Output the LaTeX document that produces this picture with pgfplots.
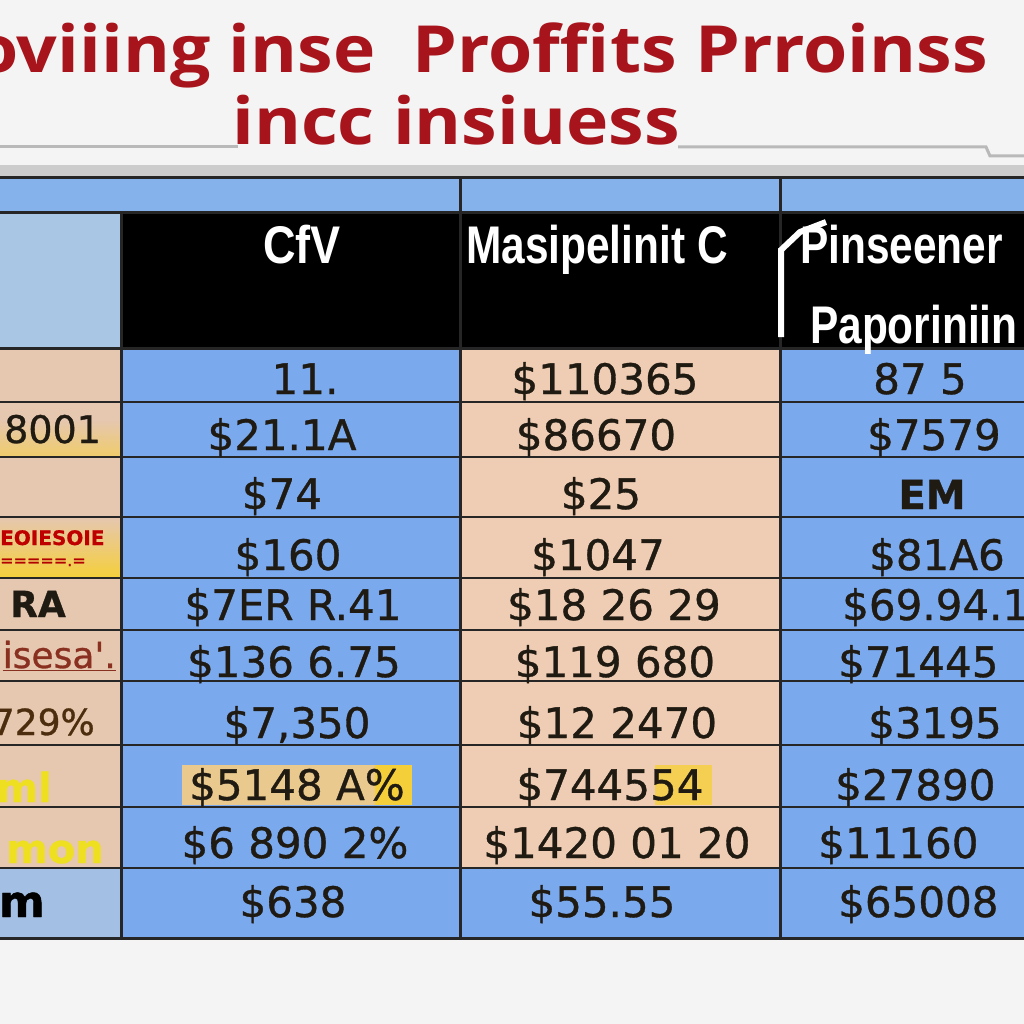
\documentclass[border=0pt]{standalone}
\usepackage{pgfplots}
\pgfplotsset{compat=1.18}
\usepackage{fontspec}
\usepackage{graphicx}
\newfontfamily\titlefont{Open Sans}
\newfontfamily\headfont{Liberation Sans}
\newfontfamily\cellfont{DejaVu Sans}[FakeBold=0.8]

\definecolor{bgpage}{HTML}{F4F4F4}
\definecolor{titlered}{HTML}{A8141C}
\definecolor{bandblue}{HTML}{86B2EC}
\definecolor{cellblue}{HTML}{7AA9EE}
\definecolor{headgray}{HTML}{A9C6E4}
\definecolor{beige}{HTML}{EFCDB4}
\definecolor{beigeL}{HTML}{E6C7B0}
\definecolor{yel}{HTML}{F5CF3A}
\definecolor{ink}{HTML}{1F1A12}
\definecolor{rust}{HTML}{8A3020}
\definecolor{labyel}{HTML}{EEE020}
\definecolor{rowblue}{HTML}{A3BFE3}
\definecolor{hilite}{HTML}{E9C98E}

% rectangle in pixel coordinates (y grows downward)
\newcommand{\cell}[5]{\addplot[fill=#5, draw=none] coordinates {(#1,#2) (#3,#2) (#3,#4) (#1,#4)} --cycle;}

\begin{document}
\begin{tikzpicture}
\useasboundingbox (0,0) rectangle (1024pt,1024pt);
\clip (0,0) rectangle (1024pt,1024pt);
\begin{axis}[
    scale only axis, width=1024pt, height=1024pt,
    xmin=0, xmax=1024, ymin=0, ymax=1024, y dir=reverse,
    hide axis, clip=false,
    nodes near coords style={inner sep=0pt},
]
% page + title rule
\cell{0}{0}{1024}{1024}{bgpage}
\addplot[gray!55, line width=3pt] coordinates {(0,147) (238,147)};
\addplot[gray!55, line width=3pt] coordinates {(678,147) (986,147) (990,156) (1024,156)};
\node[font=\titlefont\bfseries\fontsize{65}{70}\selectfont, text=titlered, anchor=base east, inner sep=0pt]
    at (axis cs:988,73) {\scalebox{1.1}[1]{poviiing inse\ \ Proffits Prroinss}};
\node[font=\titlefont\bfseries\fontsize{65}{70}\selectfont, text=titlered, anchor=base, inner sep=0pt]
    at (axis cs:456,145) {\scalebox{1.1}[1]{incc insiuess}};

% table cells
\cell{0}{165}{1024}{178}{gray!40}
\cell{0}{178}{1024}{213}{bandblue}
\cell{0}{213}{121}{348}{headgray}
\cell{121}{213}{1024}{348}{black}
\cell{0}{348}{121}{938}{beigeL}
\addplot[draw=none, top color=beigeL, bottom color=yel] coordinates {(0,517) (121,517) (121,578) (0,578)} --cycle;
\addplot[draw=none, top color=beigeL, bottom color=yel!60!beigeL] coordinates {(0,420) (121,420) (121,457) (0,457)} --cycle;
\cell{0}{868}{121}{938}{rowblue}
\cell{121}{348}{460}{938}{cellblue}
\cell{460}{348}{780}{868}{beige}
\cell{460}{868}{780}{938}{cellblue}
\cell{780}{348}{1024}{938}{cellblue}
% highlights behind a few values
\cell{182}{765}{412}{805}{hilite}
\cell{375}{765}{412}{805}{yel}
\cell{655}{765}{712}{805}{yel!80!beige}

% grid lines
\addplot[black!85, line width=3pt] coordinates {(0,178) (1024,178)};
\addplot[black!85, line width=3pt] coordinates {(0,213) (1024,213)};
\addplot[black!85, line width=3pt] coordinates {(0,348) (1024,348)};
\addplot[black!85, line width=2.5pt] coordinates {(0,402) (1024,402)};
\addplot[black!85, line width=2.5pt] coordinates {(0,457) (1024,457)};
\addplot[black!85, line width=2.5pt] coordinates {(0,517) (1024,517)};
\addplot[black!85, line width=2.5pt] coordinates {(0,578) (1024,578)};
\addplot[black!85, line width=2.5pt] coordinates {(0,630) (1024,630)};
\addplot[black!85, line width=2.5pt] coordinates {(0,681) (1024,681)};
\addplot[black!85, line width=2.5pt] coordinates {(0,745) (1024,745)};
\addplot[black!85, line width=2.5pt] coordinates {(0,807) (1024,807)};
\addplot[black!85, line width=2.5pt] coordinates {(0,868) (1024,868)};
\addplot[black!85, line width=3pt] coordinates {(0,938) (1024,938)};
\addplot[black!85, line width=3pt] coordinates {(121,213) (121,938)};
\addplot[black!85, line width=3pt] coordinates {(460,178) (460,938)};
\addplot[black!85, line width=3pt] coordinates {(780,178) (780,938)};

% header
\node[font=\headfont\bfseries\fontsize{53}{56}\selectfont, text=white, anchor=base, inner sep=0pt]
    at (axis cs:302,263) {\scalebox{0.85}[1]{CfV}};
\node[font=\headfont\bfseries\fontsize{53}{56}\selectfont, text=white, anchor=base west, inner sep=0pt]
    at (axis cs:466,263) {\scalebox{0.8}[1]{Masipelinit C}};
\node[font=\headfont\bfseries\fontsize{53}{56}\selectfont, text=white, anchor=base west, inner sep=0pt]
    at (axis cs:800,263) {\scalebox{0.8}[1]{Pinseener}};
\node[font=\headfont\bfseries\fontsize{53}{56}\selectfont, text=white, anchor=base west, inner sep=0pt]
    at (axis cs:810,343) {\scalebox{0.8}[1]{Paporiniin}};
\addplot[white, line width=6pt] coordinates {(781,337) (781,250) (800,232) (826,222)};

% left column labels
\node[font=\cellfont\fontsize{38}{40}\selectfont, text=ink, anchor=base west, inner sep=0pt] at (axis cs:4,443) {8001};
\node[font=\cellfont\bfseries\fontsize{20}{22}\selectfont, text=red!75!black, anchor=base west, inner sep=0pt] at (axis cs:0,545) {EOIESOIE};
\node[font=\cellfont\fontsize{16}{18}\selectfont, text=red!70!black, anchor=base west, inner sep=0pt] at (axis cs:0,566) {=====.=};
\node[font=\cellfont\bfseries\fontsize{36}{40}\selectfont, text=ink, anchor=base west, inner sep=0pt] at (axis cs:10,617) {RA};
\node[font=\cellfont\fontsize{36}{40}\selectfont, text=rust, anchor=base east, inner sep=0pt] at (axis cs:116,668) {\underline{isesa'.}};
\node[font=\cellfont\fontsize{36}{40}\selectfont, text=ink!80!orange, anchor=base east, inner sep=0pt] at (axis cs:95,735) {729\%};
\node[font=\cellfont\bfseries\fontsize{40}{44}\selectfont, text=labyel, anchor=base east, inner sep=0pt] at (axis cs:52,802) {ml};
\node[font=\cellfont\bfseries\fontsize{40}{44}\selectfont, text=labyel, anchor=base east, inner sep=0pt] at (axis cs:104,863) {mon};
\node[font=\cellfont\bfseries\fontsize{44}{48}\selectfont, text=black, anchor=base east, inner sep=0pt] at (axis cs:45,917) {m};

% column 1
\node[font=\cellfont\fontsize{42}{44}\selectfont, text=ink, anchor=base, inner sep=0pt] at (axis cs:305,394) {11.};
\node[font=\cellfont\fontsize{42}{44}\selectfont, text=ink, anchor=base, inner sep=0pt] at (axis cs:282,450) {\$21.1A};
\node[font=\cellfont\fontsize{42}{44}\selectfont, text=ink, anchor=base, inner sep=0pt] at (axis cs:282,509) {\$74};
\node[font=\cellfont\fontsize{42}{44}\selectfont, text=ink, anchor=base, inner sep=0pt] at (axis cs:288,570) {\$160};
\node[font=\cellfont\fontsize{42}{44}\selectfont, text=ink, anchor=base, inner sep=0pt] at (axis cs:293,620) {\$7ER R.41};
\node[font=\cellfont\fontsize{42}{44}\selectfont, text=ink, anchor=base, inner sep=0pt] at (axis cs:294,677) {\$136 6.75};
\node[font=\cellfont\fontsize{42}{44}\selectfont, text=ink, anchor=base, inner sep=0pt] at (axis cs:297,738) {\$7,350};
\node[font=\cellfont\fontsize{42}{44}\selectfont, text=ink, anchor=base, inner sep=0pt] at (axis cs:297,800) {\$5148 A\%};
\node[font=\cellfont\fontsize{42}{44}\selectfont, text=ink, anchor=base, inner sep=0pt] at (axis cs:295,858) {\$6 890 2\%};
\node[font=\cellfont\fontsize{42}{44}\selectfont, text=ink, anchor=base, inner sep=0pt] at (axis cs:293,917) {\$638};

% column 2
\node[font=\cellfont\fontsize{42}{44}\selectfont, text=ink, anchor=base, inner sep=0pt] at (axis cs:605,394) {\$110365};
\node[font=\cellfont\fontsize{42}{44}\selectfont, text=ink, anchor=base, inner sep=0pt] at (axis cs:596,450) {\$86670};
\node[font=\cellfont\fontsize{42}{44}\selectfont, text=ink, anchor=base, inner sep=0pt] at (axis cs:601,509) {\$25};
\node[font=\cellfont\fontsize{42}{44}\selectfont, text=ink, anchor=base, inner sep=0pt] at (axis cs:598,570) {\$1047};
\node[font=\cellfont\fontsize{42}{44}\selectfont, text=ink, anchor=base, inner sep=0pt] at (axis cs:614,620) {\$18 26 29};
\node[font=\cellfont\fontsize{42}{44}\selectfont, text=ink, anchor=base, inner sep=0pt] at (axis cs:615,677) {\$119 680};
\node[font=\cellfont\fontsize{42}{44}\selectfont, text=ink, anchor=base, inner sep=0pt] at (axis cs:617,738) {\$12 2470};
\node[font=\cellfont\fontsize{42}{44}\selectfont, text=ink, anchor=base, inner sep=0pt] at (axis cs:610,800) {\$744554};
\node[font=\cellfont\fontsize{42}{44}\selectfont, text=ink, anchor=base, inner sep=0pt] at (axis cs:617,858) {\$1420 01 20};
\node[font=\cellfont\fontsize{42}{44}\selectfont, text=ink, anchor=base, inner sep=0pt] at (axis cs:602,917) {\$55.55};

% column 3
\node[font=\cellfont\fontsize{42}{44}\selectfont, text=ink, anchor=base, inner sep=0pt] at (axis cs:920,394) {87 5};
\node[font=\cellfont\fontsize{42}{44}\selectfont, text=ink, anchor=base, inner sep=0pt] at (axis cs:934,450) {\$7579};
\node[font=\cellfont\bfseries\fontsize{40}{44}\selectfont, text=ink, anchor=base, inner sep=0pt] at (axis cs:932,509) {EM};
\node[font=\cellfont\fontsize{42}{44}\selectfont, text=ink, anchor=base, inner sep=0pt] at (axis cs:937,570) {\$81A6};
\node[font=\cellfont\fontsize{42}{44}\selectfont, text=ink, anchor=base west, inner sep=0pt] at (axis cs:842,620) {\$69.94.1};
\node[font=\cellfont\fontsize{42}{44}\selectfont, text=ink, anchor=base west, inner sep=0pt] at (axis cs:838,677) {\$71445};
\node[font=\cellfont\fontsize{42}{44}\selectfont, text=ink, anchor=base west, inner sep=0pt] at (axis cs:868,738) {\$3195};
\node[font=\cellfont\fontsize{42}{44}\selectfont, text=ink, anchor=base west, inner sep=0pt] at (axis cs:835,800) {\$27890};
\node[font=\cellfont\fontsize{42}{44}\selectfont, text=ink, anchor=base west, inner sep=0pt] at (axis cs:818,858) {\$11160};
\node[font=\cellfont\fontsize{42}{44}\selectfont, text=ink, anchor=base west, inner sep=0pt] at (axis cs:838,917) {\$65008};
\end{axis}
\end{tikzpicture}
\end{document}
